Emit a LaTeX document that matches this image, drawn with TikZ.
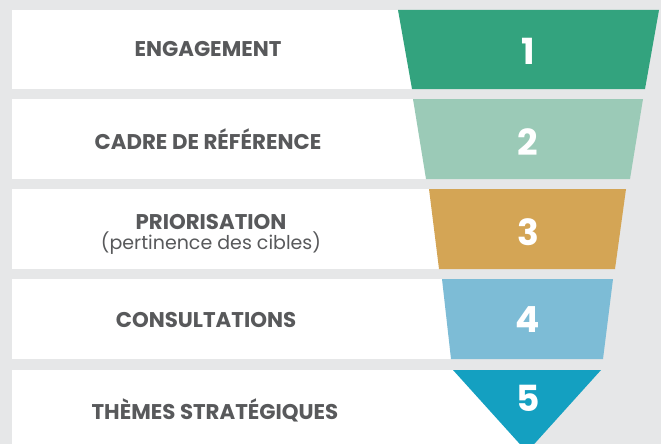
\documentclass[tikz,border=0pt]{standalone}
\usepackage{fontspec}
\setmainfont{Poppins}
\definecolor{pagegrey}{HTML}{E6E7E8}
\definecolor{labelgrey}{HTML}{58595B}
\definecolor{stepone}{HTML}{33A37E}
\definecolor{steptwo}{HTML}{9BCAB7}
\definecolor{stepthree}{HTML}{D4A555}
\definecolor{stepfour}{HTML}{7DBCD6}
\definecolor{stepfive}{HTML}{14A0C1}
\newcommand\subfont{\fontsize{19}{21}\selectfont\mdseries}
\tikzset{
    band/.style={fill=white},
    steplabel/.style={text=labelgrey, font=\fontsize{21.3}{23}\selectfont\bfseries, align=center},
    stepnumber/.style={text=white, font=\fontsize{36}{40}\selectfont\bfseries}
}
\begin{document}
\begin{tikzpicture}[x=1pt, y=-1pt]
        \pgfmathsetmacro\l{12};
        \pgfmathsetmacro\c{528};

        \fill[pagegrey] (0, 0) rectangle (661, 444);
        \useasboundingbox (0, 0) rectangle (661, 444);

        % white bands
        \fill[band] (\l, 10) rectangle (\c, 89);
        \fill[band] (\l, 99) rectangle (\c, 179);
        \fill[band] (\l, 189) rectangle (\c, 269);
        \fill[band] (\l, 279) rectangle (\c, 359);
        \fill[band] (\l, 370) rectangle (\c, 444);

        % funnel
        \fill[stepone] (398, 10) -- (659, 10) -- (645, 89) -- (412, 89) -- cycle;
        \fill[steptwo] (413, 99) -- (643, 99) -- (630, 179) -- (426, 179) -- cycle;
        \fill[stepthree] (429, 189) -- (626, 189) -- (615, 269) -- (439, 269) -- cycle;
        \fill[stepfour] (442, 279) -- (613, 279) -- (603, 359) -- (451, 359) -- cycle;
        \fill[stepfive] (453, 370) -- (601, 370) -- (527, 452) -- cycle;

        \node[steplabel] (engagement) at (208, 49) {ENGAGEMENT};
        \node[steplabel] (cadre) at (208, 139) {CADRE DE RÉFÉRENCE};
        \node[steplabel] (priorisation) at (211, 234) {PRIORISATION\\[-3pt]{\subfont (pertinence des cibles)}};
        \node[steplabel] (consultations) at (206, 320) {CONSULTATIONS};
        \node[steplabel] (themes) at (215, 410) {THÈMES STRATÉGIQUES};

        \node[stepnumber] (n1) at (\c, 51) {1};
        \node[stepnumber] (n2) at (\c, 142) {2};
        \node[stepnumber] (n3) at (\c, 232) {3};
        \node[stepnumber] (n4) at (\c, 320) {4};
        \node[stepnumber] (n5) at (\c, 398) {5};
    \end{tikzpicture}
\end{document}
